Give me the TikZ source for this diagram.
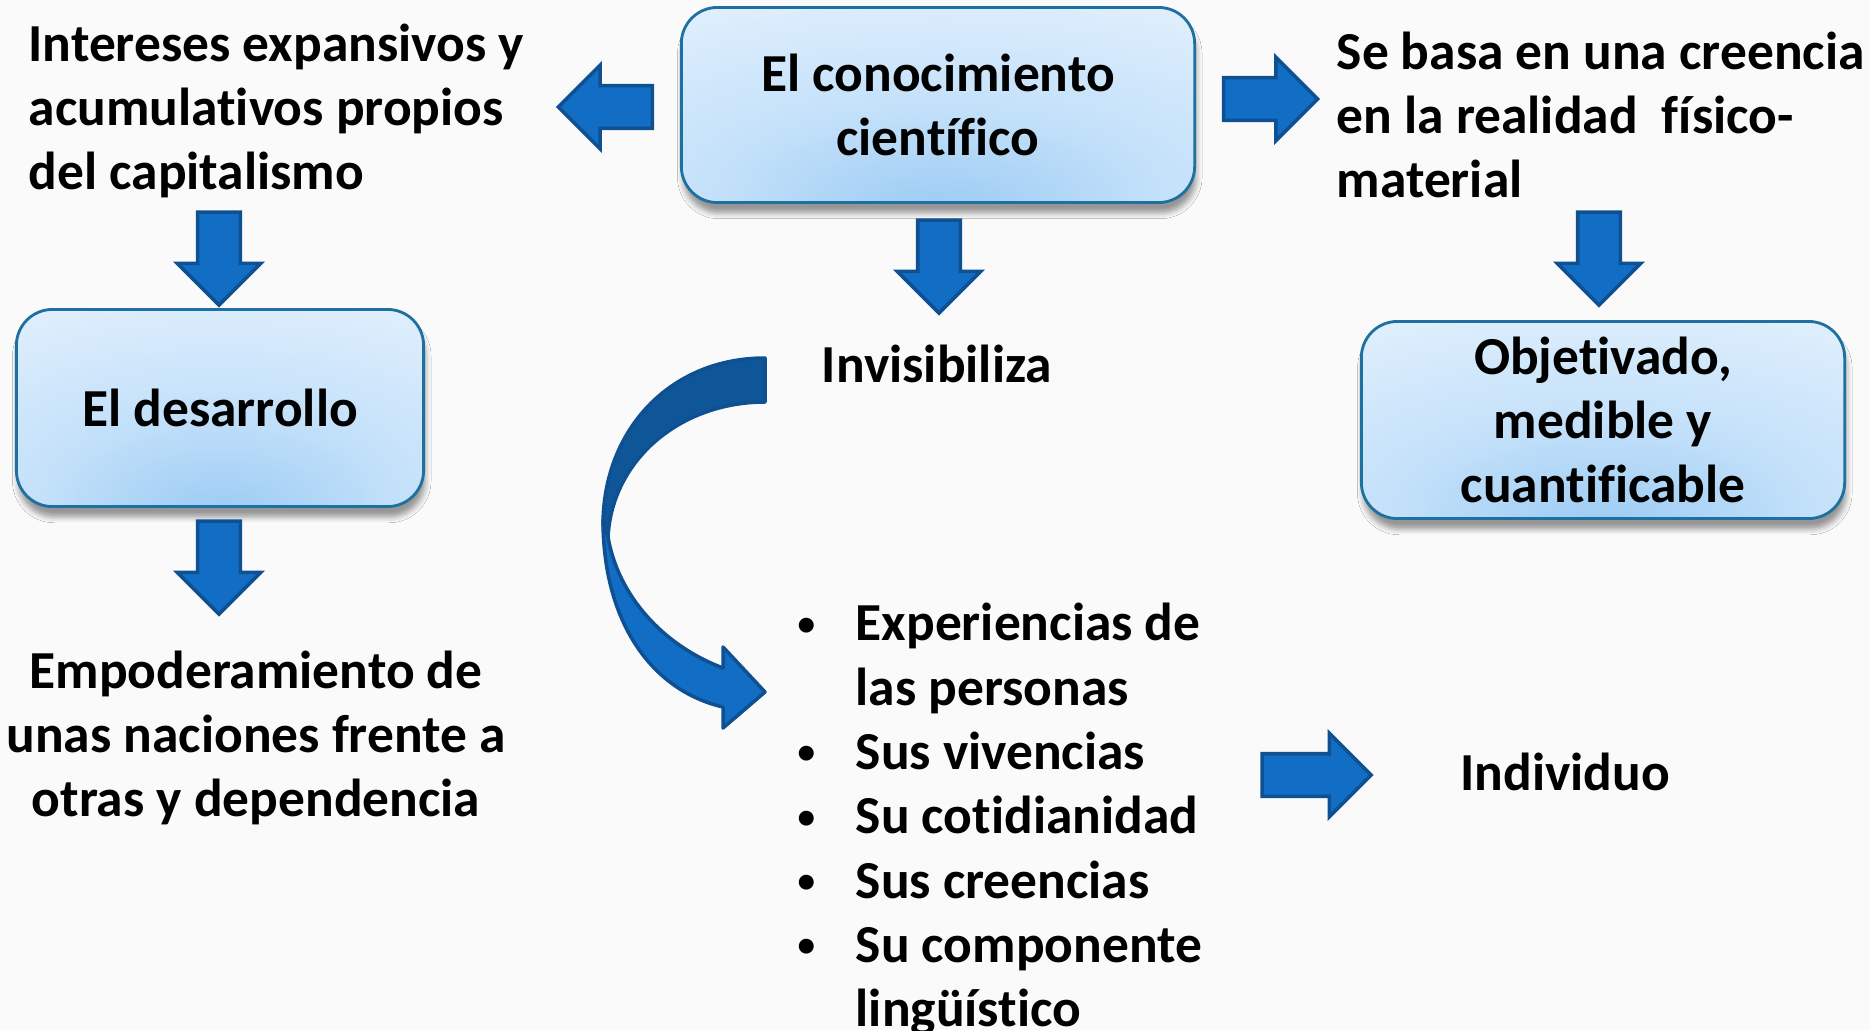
\documentclass[tikz,border=0pt]{standalone}
\usepackage{fontspec}
\setmainfont{Carlito}[Ligatures=NoCommon]
\usetikzlibrary{shapes.arrows,shadows.blur}
\definecolor{arrowfill}{RGB}{17,110,196}
\definecolor{arrowline}{RGB}{14,80,145}
\definecolor{curvedark}{RGB}{15,86,152}
\definecolor{boxline}{RGB}{30,112,160}
\definecolor{boxout}{RGB}{234,244,253}
\definecolor{boxin}{RGB}{196,225,250}
\definecolor{boxmid}{RGB}{155,203,243}
\definecolor{bgcol}{RGB}{250,250,250}
\pgfdeclareradialshading{boxglow}{\pgfpoint{0bp}{-28bp}}{color(0bp)=(boxmid); color(22bp)=(boxin); color(55bp)=(boxout); color(100bp)=(boxout)}
\newcommand{\punto}{\raisebox{1.6pt}{\fontsize{10pt}{10pt}\selectfont\textbullet}}
\tikzset{
  txt/.style={font=\fontsize{15.2pt}{18.3pt}\selectfont\bfseries, inner sep=0pt},
  bluebox/.style={txt, rectangle, rounded corners=0.36cm, draw=boxline, line width=0.8pt,
    shade, shading=boxglow, align=center,
    blur shadow={shadow xshift=0.5pt, shadow yshift=-3pt, shadow blur radius=1.6pt}},
  blockarrow/.style={single arrow, draw=arrowline, fill=arrowfill, line width=1pt, inner sep=0.195cm,
    single arrow head extend=0.205cm, single arrow head indent=0pt}
}
\begin{document}
\begin{tikzpicture}[x=0.01cm, y=-0.01cm]
        \useasboundingbox (0,0) rectangle (1870,1030);
        \fill[bgcol] (0,0) rectangle (1870,1030);

        % cajas
        \node[bluebox, minimum width=5.13cm, minimum height=1.95cm] at (938, 105) (ciencia) {El conocimiento\\científico};
        \node[bluebox, minimum width=4.07cm, minimum height=1.97cm] at (220, 408) (desarrollo) {El desarrollo};
        \node[bluebox, minimum width=4.83cm, minimum height=1.97cm] at (1603, 420) (objetivo) {Objetivado,\\medible y\\cuantificable};

        % textos sueltos
        \node[txt, anchor=west, align=left] at (28, 111) (intereses) {Intereses expansivos y\\acumulativos propios\\del capitalismo};
        \node[txt, anchor=west, align=left] at (1336, 115) (creencia) {Se basa en una creencia\\en la realidad\ \ físico-\\material};
        \node[txt, align=center] at (256, 738) (poder) {Empoderamiento de\\unas naciones frente a\\otras y dependencia};
        \node[txt] at (937, 364) (invisible) {Invisibiliza};
        \node[txt] at (1565, 772) (individuo) {Individuo};
        \node[txt, anchor=north west] at (797, 595) (lista) {\begin{tabular}{@{}p{16.5pt}@{}l@{}}
            \punto & Experiencias de\\
                   & las personas\\
            \punto & Sus vivencias\\
            \punto & Su cotidianidad\\
            \punto & Sus creencias\\
            \punto & Su componente\\
                   & lingüístico
          \end{tabular}};

        % flechas
        \node[blockarrow, shape border rotate=180, minimum height=0.94cm] at (616, 107) (fizq) {};
        \node[blockarrow, minimum height=0.94cm] at (1260, 99) (fder) {};
        \node[blockarrow, shape border rotate=270, minimum height=0.93cm] at (219, 248) (fbaja1) {};
        \node[blockarrow, shape border rotate=270, minimum height=0.93cm] at (219, 557) (fbaja2) {};
        \node[blockarrow, shape border rotate=270, minimum height=0.93cm] at (939, 256) (fbaja3) {};
        \node[blockarrow, shape border rotate=270, minimum height=0.93cm] at (1599, 248) (fbaja4) {};
        \node[blockarrow, minimum height=1.09cm] at (1306, 775) (findiv) {};

        % flecha curva
        \filldraw[fill=curvedark, draw=arrowline, line width=1pt, line join=round]
          (765,358) .. controls (670,358) and (603,430) .. (603,525)
          -- (608,537) .. controls (612,460) and (680,402) .. (765,402) -- cycle;
        \filldraw[fill=arrowfill, draw=arrowline, line width=1pt, line join=round]
          (603,520) .. controls (603,620) and (650,690) .. (723,707)
          -- (723,728) -- (765,692) -- (723,647) -- (723,668)
          .. controls (662,645) and (618,595) .. (608,537) -- cycle;
    \end{tikzpicture}
\end{document}
